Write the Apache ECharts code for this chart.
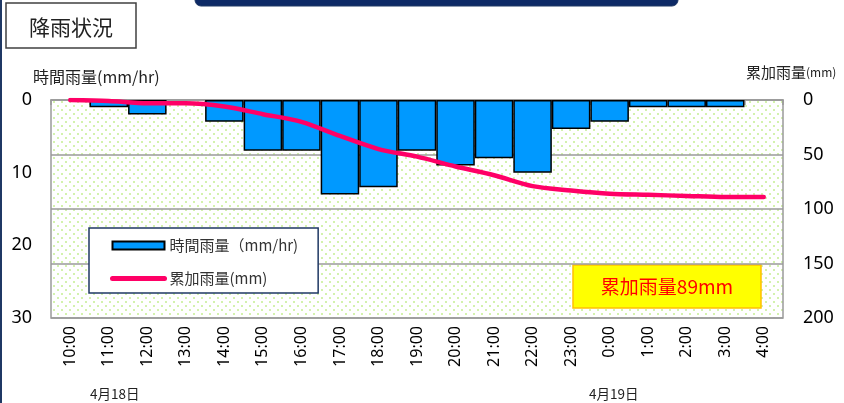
<!DOCTYPE html>
<html>
<head>
<meta charset="utf-8">
<script src="https://cdn.jsdelivr.net/npm/echarts@6/dist/echarts.min.js"></script>
<style>
  html, body { margin: 0; padding: 0; background: #fff; }
  #chart { width: 844px; height: 403px; }
</style>
</head>
<body>
<div id="chart"></div>
<script>
// hours (4/18 10:00 - 4/19 4:00)
const hours = ['10:00', '11:00', '12:00', '13:00', '14:00', '15:00', '16:00', '17:00', '18:00', '19:00',
  '20:00', '21:00', '22:00', '23:00', '0:00', '1:00', '2:00', '3:00', '4:00']
// 時間雨量 mm/hr
const hourlyRain = [0, 1, 2, 0, 3, 7, 7, 13, 12, 7, 9, 8, 10, 4, 3, 1, 1, 1, 0]
// 累加雨量 mm
const totalRain = [0, 1, 3, 3, 6, 13, 20, 33, 45, 52, 61, 69, 79, 83, 86, 87, 88, 89, 89]
const leftTicks = [0, 10, 20, 30]
const rightTicks = [0, 50, 100, 150, 200]

const jpFont = '"Noto Sans CJK JP", "Noto Sans", sans-serif'

// dotted green background for plot area
const dots = document.createElement('canvas')
dots.width = 8
dots.height = 8
const dctx = dots.getContext('2d')
dctx.fillStyle = '#ffffff'
dctx.fillRect(0, 0, 8, 8)
dctx.fillStyle = '#d3f2ad'
dctx.fillRect(1, 1, 2, 2)
dctx.fillRect(5, 5, 2, 2)

const chart = echarts.init(document.getElementById('chart'))
chart.setOption({
  animation: false,
  textStyle: { fontFamily: jpFont },
  grid: {
    left: 51,
    right: 61,
    top: 100,
    height: 218,
    show: true,
    backgroundColor: { image: dots, repeat: 'repeat' },
    borderColor: '#9a9a9a',
    borderWidth: 1.5
  },
  legend: {
    orient: 'vertical',
    left: 89,
    top: 228,
    padding: [10, 20, 7, 21],
    itemGap: 18,
    itemWidth: 52,
    itemHeight: 8,
    backgroundColor: '#fff',
    borderColor: '#1f3864',
    borderWidth: 1.5,
    borderRadius: 0,
    textStyle: { fontSize: 15, color: '#333', fontFamily: jpFont },
    data: [
      { name: '時間雨量（mm/hr)', icon: 'rect' },
      { name: '累加雨量(mm)', itemStyle: { opacity: 0 }, lineStyle: { width: 5, cap: 'round' } }
    ]
  },
  xAxis: {
    type: 'category',
    data: hours,
    boundaryGap: true,
    axisLine: { lineStyle: { color: '#9a9a9a', width: 1.5 } },
    axisTick: { show: true, interval: 0, length: 5, lineStyle: { color: '#9a9a9a', width: 1.5 } },
    axisLabel: {
      interval: 0,
      rotate: 90,
      margin: 8,
      fontSize: 16,
      color: '#000',
      fontFamily: '"Noto Sans", sans-serif'
    }
  },
  yAxis: [
    {
      type: 'value',
      inverse: true,
      min: leftTicks[0],
      max: leftTicks[leftTicks.length - 1],
      interval: 10,
      axisLine: { show: false },
      axisTick: { show: false },
      splitLine: { show: false },
      axisLabel: { fontSize: 18, color: '#000', margin: 19, fontFamily: '"Noto Sans", sans-serif' }
    },
    {
      type: 'value',
      inverse: true,
      min: rightTicks[0],
      max: rightTicks[rightTicks.length - 1],
      interval: 50,
      axisLine: { show: false },
      axisTick: { show: false },
      splitLine: { show: true, lineStyle: { color: '#9a9a9a', width: 1.5 } },
      axisLabel: { fontSize: 18, color: '#000', margin: 20, fontFamily: '"Noto Sans", sans-serif' }
    }
  ],
  series: [
    {
      name: '時間雨量（mm/hr)',
      type: 'bar',
      yAxisIndex: 0,
      // no bar drawn for hours without rain
      data: hourlyRain.map(v => (v === 0 ? '-' : v)),
      barWidth: '100%',
      barCategoryGap: 0,
      itemStyle: { color: '#0099ff', borderColor: '#000', borderWidth: 1.5 }
    },
    {
      name: '累加雨量(mm)',
      type: 'line',
      yAxisIndex: 1,
      data: totalRain,
      symbol: 'none',
      smooth: 0.3,
      lineStyle: { color: '#ff0066', width: 4.5, cap: 'round' },
      itemStyle: { color: '#ff0066' },
      z: 5
    }
  ],
  graphic: [
    // left panel edge
    { type: 'rect', shape: { x: 0, y: 0, width: 2, height: 403 }, style: { fill: '#1f3864' } },
    // top header tab
    {
      type: 'rect',
      shape: { x: 195, y: -10, width: 483, height: 16, r: 6 },
      style: { fill: '#0d2a66', stroke: '#1f3864', lineWidth: 1 }
    },
    // title box
    {
      type: 'group',
      children: [
        { type: 'rect', shape: { x: 6, y: 3, width: 130, height: 45 }, style: { fill: '#fff', stroke: '#404040', lineWidth: 1.5 } },
        { type: 'text', x: 71, y: 27, style: { text: '降雨状況', font: '21px ' + jpFont, fill: '#222', align: 'center', verticalAlign: 'middle' } }
      ]
    },
    { type: 'text', x: 33, y: 77, style: { text: '時間雨量(mm/hr)', font: '16px ' + jpFont, fill: '#222', verticalAlign: 'middle' } },
    {
      type: 'text', x: 746, y: 72,
      style: {
        text: '{a|累加雨量}{b|(mm)}',
        verticalAlign: 'middle',
        rich: {
          a: { fontSize: 15, fontFamily: jpFont, fill: '#222' },
          b: { fontSize: 12, fontFamily: jpFont, fill: '#222' }
        }
      }
    },
    { type: 'text', x: 90, y: 394, style: { text: '4月18日', font: '13.5px ' + jpFont, fill: '#222', verticalAlign: 'middle' } },
    { type: 'text', x: 589, y: 394, style: { text: '4月19日', font: '13.5px ' + jpFont, fill: '#222', verticalAlign: 'middle' } },
    // total annotation
    {
      type: 'group',
      z: 10,
      children: [
        { type: 'rect', shape: { x: 573, y: 265, width: 188, height: 43 }, style: { fill: '#ffff00', stroke: '#ffc000', lineWidth: 1.5 } },
        { type: 'text', x: 667, y: 287, style: { text: '累加雨量' + totalRain[totalRain.length - 1] + 'mm', font: '19px ' + jpFont, fill: '#ff0000', align: 'center', verticalAlign: 'middle' } }
      ]
    }
  ]
})
</script>
</body>
</html>
